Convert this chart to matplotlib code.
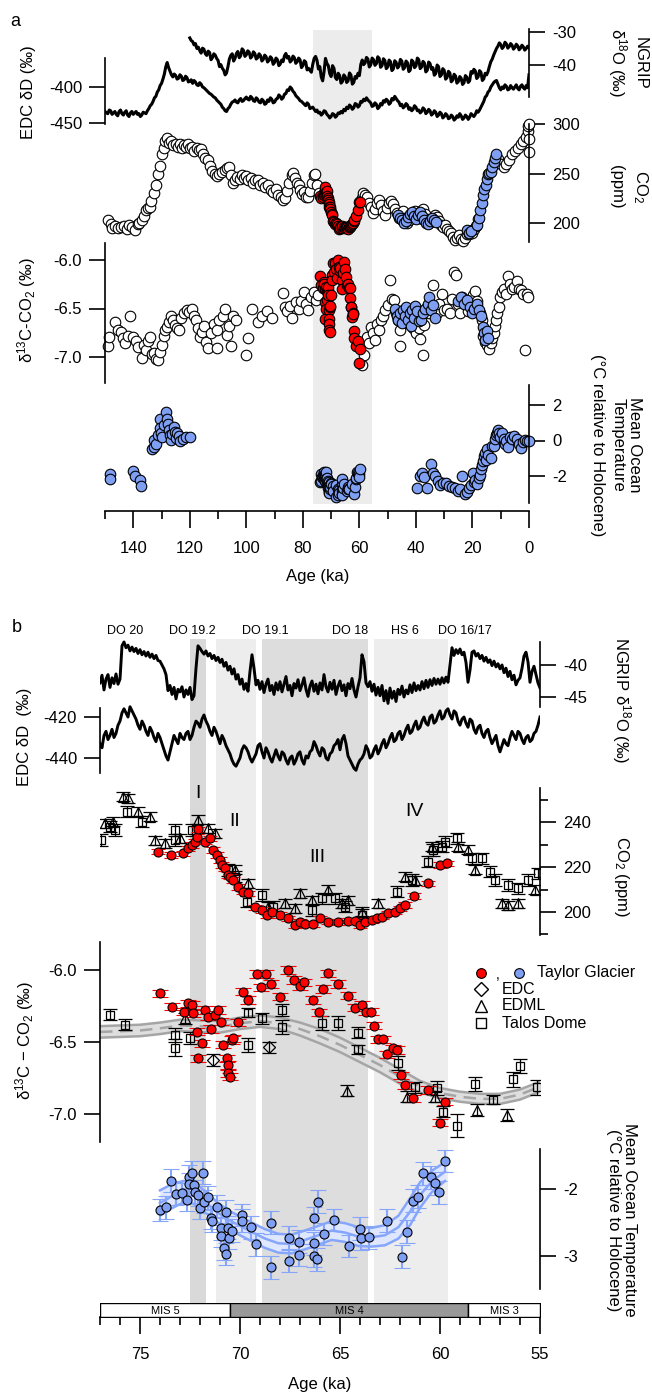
import numpy as np
import matplotlib
matplotlib.use("Agg")
import matplotlib.pyplot as plt

plt.rcParams["font.family"] = ["Liberation Sans", "DejaVu Sans"]
plt.rcParams["mathtext.fontset"] = "custom"
plt.rcParams["mathtext.rm"] = "Liberation Sans"
plt.rcParams["mathtext.it"] = "Liberation Sans:italic"
plt.rcParams["font.size"] = 12

# ------------------------------------------------------------------ data
# panel a: NGRIP d18O, 0.5 ka steps from 120 ka to 0 ka
ngrip_a = [-31.8, -32.6, -32.9, -33.9, -33.5, -35.0, -34.6, -35.6, -36.4, -34.9,
           -35.2, -36.6, -37.1, -35.8, -36.2, -38.4, -37.8, -36.6, -37.0, -38.0,
           -38.6, -40.5, -39.9, -41.0, -41.6, -43.0, -42.4, -40.5, -38.2, -37.1,
           -36.6, -38.8, -38.0, -36.5, -35.9, -37.8, -37.2, -35.1, -35.6, -37.4,
           -36.9, -35.7, -36.1, -37.9, -37.4, -36.0, -36.5, -38.2, -37.8, -36.6,
           -37.1, -38.8, -38.3, -37.0, -37.5, -39.1, -38.6, -37.5, -38.0, -39.8,
           -39.2, -37.9, -38.4, -40.2, -39.7, -38.5, -39.0, -37.2, -36.5, -37.9,
           -37.4, -39.1, -38.6, -37.3, -37.8, -39.5, -39.0, -37.9, -38.4, -40.8,
           -40.2, -38.7, -39.1, -41.5, -41.0, -41.6, -42.2, -39.8, -38.0, -37.4,
           -38.6, -41.2, -40.5, -43.6, -44.8, -42.0, -38.0, -39.5, -40.2, -42.6,
           -43.5, -40.2, -41.0, -43.8, -44.4, -42.5, -43.2, -45.5, -45.0, -43.0,
           -43.6, -45.3, -44.8, -42.4, -43.0, -45.8, -45.3, -43.5, -44.0, -42.5,
           -43.2, -39.8, -38.5, -39.9, -39.4, -37.7, -38.2, -40.6, -40.0, -37.9,
           -38.4, -40.1, -39.6, -37.5, -38.0, -40.7, -40.2, -38.1, -38.6, -41.1,
           -40.6, -38.5, -39.0, -41.7, -41.2, -38.7, -39.2, -40.9, -40.4, -38.3,
           -38.8, -41.3, -40.8, -38.8, -39.3, -42.0, -41.5, -38.5, -39.0, -40.8,
           -40.3, -37.9, -38.4, -41.1, -40.6, -38.9, -39.4, -42.1, -41.6, -39.1,
           -39.6, -41.3, -40.8, -43.1, -42.6, -40.0, -40.5, -43.5, -43.0, -41.1,
           -41.6, -44.3, -43.8, -41.9, -42.4, -45.1, -44.6, -42.8, -43.3, -45.5,
           -45.0, -43.5, -44.0, -45.9, -45.4, -43.2, -43.7, -45.3, -44.8, -42.0,
           -42.5, -41.3, -41.8, -44.1, -43.6, -41.7, -42.2, -44.7, -44.2, -42.5,
           -43.0, -42.0, -40.4, -39.0, -38.2, -37.0, -36.0, -35.0, -34.3, -33.3,
           -33.8, -35.0, -34.5, -33.1, -33.6, -34.9, -34.4, -33.5, -34.0, -35.2,
           -34.7, -33.7, -34.2, -35.4, -34.9, -34.0, -34.5, -35.5, -35.0, -34.3,
           -34.8]

# panel a: EDC dD, 0.5 ka steps from 150 ka to 0 ka
edc_a = [-434, -436, -437, -432, -433, -438, -436, -434, -438, -440,
         -434, -432, -437, -439, -435, -433, -439, -441, -436, -434,
         -438, -436, -434, -438, -437, -441, -439, -435, -436, -437,
         -433, -430, -426, -424, -420, -415, -413, -407, -404, -398,
         -395, -389, -382, -372, -366, -373, -378, -383, -386, -382,
         -384, -389, -388, -383, -385, -391, -390, -385, -387, -393,
         -392, -390, -395, -391, -393, -397, -398, -394, -396, -400,
         -401, -403, -405, -407, -409, -410, -412, -414, -415, -418,
         -420, -422, -424, -428, -430, -433, -434, -430, -428, -424,
         -421, -420, -418, -421, -422, -418, -416, -420, -419, -416,
         -414, -417, -418, -413, -415, -419, -420, -415, -417, -421,
         -422, -417, -419, -424, -423, -418, -420, -415, -417, -422,
         -421, -417, -416, -411, -413, -417, -415, -410, -409, -404,
         -405, -400, -402, -406, -408, -412, -414, -416, -419, -420,
         -422, -424, -426, -422, -424, -430, -429, -428, -431, -434,
         -432, -436, -435, -439, -437, -433, -434, -438, -440, -443,
         -441, -437, -438, -442, -440, -436, -437, -434, -436, -431,
         -433, -428, -430, -425, -427, -431, -429, -423, -424, -428,
         -426, -420, -421, -417, -419, -415, -418, -420, -422, -427,
         -426, -422, -424, -430, -428, -423, -425, -419, -421, -417,
         -419, -424, -422, -416, -418, -413, -416, -419, -421, -426,
         -424, -429, -427, -423, -425, -431, -429, -433, -431, -426,
         -428, -433, -432, -436, -434, -429, -431, -437, -435, -431,
         -433, -439, -437, -433, -435, -441, -439, -435, -437, -443,
         -441, -437, -439, -444, -443, -439, -441, -446, -444, -440,
         -442, -437, -440, -445, -443, -439, -441, -445, -442, -437,
         -439, -441, -438, -433, -435, -432, -428, -424, -420, -414,
         -412, -407, -405, -400, -397, -394, -392, -391, -396, -401,
         -404, -400, -402, -397, -399, -404, -403, -398, -401, -403,
         -400, -397, -402, -404, -399, -397, -401, -403, -398, -401,
         -383]

# panel a: ice core CO2 compilation (open circles)
co2_a_age = [149.0, 148.0, 147.4, 146.5, 145.5, 144.4, 143.3, 142.2, 141.5, 140.5,
             139.4, 138.5, 137.8, 137.0, 136.2, 135.6, 134.8, 134.1, 133.6, 132.6,
             132.0, 131.2, 130.6, 129.8, 129.2, 128.6, 128.2, 127.5, 126.7, 125.8,
             125.0, 124.2, 123.5, 122.8, 122.0, 121.2, 120.5, 119.8, 119.3, 118.5,
             117.6, 116.8, 116.0, 115.3, 114.6, 113.6, 112.8, 112.0, 111.2, 110.4,
             109.5, 108.5, 107.6, 106.8, 106.1, 105.4, 104.7, 104.0, 103.2, 102.4,
             101.6, 100.8, 100.1, 99.3, 98.5, 97.6, 96.8, 95.8, 95.0, 94.2,
             93.4, 92.5, 91.3, 90.4, 89.5, 88.7, 87.8, 87.0, 86.3, 85.6,
             84.8, 84.0, 83.4, 82.8, 82.0, 81.5, 81.0, 80.3, 79.5, 78.8,
             78.2, 77.5, 76.8, 76.2, 75.7, 75.0, 74.3,
             59.2, 58.6, 58.0, 57.3, 56.6, 55.9, 55.2, 54.5, 53.8, 53.0,
             52.3, 51.6, 50.9, 50.2, 49.5, 48.8, 48.0, 47.3, 46.6, 45.9,
             45.2, 44.5, 43.8, 43.1, 42.4, 41.7, 41.0, 40.3, 39.6, 38.9,
             38.2, 37.5, 36.8, 36.1, 35.4, 34.7, 34.0, 33.3, 32.6, 31.9,
             31.2, 30.5, 29.8, 29.1, 28.4, 27.7, 27.0, 26.3, 25.6, 24.9,
             24.2, 23.5, 22.8, 22.1, 21.4, 20.7, 20.0, 19.3, 18.6, 18.0,
             11.0, 10.0, 9.0, 8.0, 7.0, 6.0, 5.0, 4.0, 3.0, 2.0,
             1.0, 0.5, 0.2, 0.1, 0.0, 0.05]
co2_a = [203, 199, 195, 197, 195, 196, 197, 194, 198, 196,
         193, 199, 200, 203, 207, 213, 215, 216, 222, 230,
         238, 250, 258, 270, 276, 283, 286, 281, 283, 279,
         280, 277, 280, 276, 279, 277, 280, 276, 277, 273,
         276, 274, 275, 270, 266, 264, 258, 253, 249, 247,
         249, 252, 254, 256, 257, 248, 240, 243, 246, 244,
         248, 245, 247, 243, 245, 240, 243, 243, 238, 240,
         236, 238, 233, 231, 234, 228, 226, 223, 225, 232,
         240, 248, 251, 245, 240, 238, 233, 229, 231, 226,
         226, 232, 240, 248, 250, 238, 230,
         225, 230, 228, 226, 220, 216, 210, 214, 220, 223,
         218, 212, 208, 215, 220, 222, 219, 214, 210, 205,
         208, 212, 205, 200, 203, 207, 210, 212, 208, 205,
         212, 214, 209, 204, 200, 202, 205, 208, 206, 202,
         198, 196, 198, 194, 192, 190, 186, 183, 185, 188,
         184, 182, 185, 189, 189, 192, 190, 194, 197, 204,
         265, 260, 257, 260, 264, 270, 273, 276, 280, 283,
         287, 293, 298, 300, 272, 285]

# panel a: other blue CO2 records
co2_blue_age = [46.5, 45.8, 45.0, 44.3, 43.6, 42.9, 42.2, 41.5, 40.8, 40.0,
                39.2, 38.5, 37.8, 37.1, 36.4, 35.7, 35.0, 34.3, 33.6, 32.9,
                22.0, 21.3, 20.6, 18.3, 17.8, 17.3, 16.8, 16.3, 15.8, 15.3,
                14.9, 14.5, 14.0, 13.5, 13.0, 12.5, 12.0, 11.6]
co2_blue = [208, 205, 203, 200, 202, 206, 209, 211, 207, 204,
            208, 211, 207, 203, 200, 199, 202, 205, 203, 201,
            193, 190, 192, 198, 205, 213, 220, 228, 234, 238,
            244, 249, 251, 252, 257, 262, 266, 270]

# panel a: d13C-CO2 compilation (open circles)
d13c_a_age = [149.1, 148.5, 146.6, 145.5, 144.4, 143.8, 142.9, 142.0, 141.1, 140.0,
              139.2, 138.4, 137.0, 136.2, 135.5, 134.8, 134.1, 133.4, 132.6, 131.9,
              131.2, 130.5, 129.8, 129.2, 128.6, 128.2, 127.5, 126.7, 126.0, 125.2,
              124.5, 123.8, 123.0, 122.2, 121.0, 120.2, 119.3, 118.6, 117.8, 117.0,
              116.4, 115.6, 114.8, 114.2, 113.6, 112.5, 111.5, 110.4, 110.4, 109.5,
              108.4, 107.6, 106.8, 106.1, 105.4, 104.7, 103.8, 100.1, 99.4, 98.0,
              95.8, 94.5, 92.7, 91.0, 87.0, 86.2, 85.6, 84.5, 83.8, 82.4,
              81.5, 80.5, 79.6, 78.8, 78.2, 77.2, 76.2, 75.4, 74.6,
              59.0, 58.5, 57.3, 56.5, 55.9, 55.2, 54.5, 53.8, 53.0, 52.3,
              51.6, 50.8, 50.0, 49.2, 48.5, 47.8, 47.0, 46.2, 45.6, 45.6,
              44.9, 44.0, 43.0, 42.0, 41.0, 40.0, 39.0, 38.5, 37.5, 37.0,
              36.0, 35.5, 34.7, 34.0, 33.3, 32.5, 31.8, 30.8, 30.0, 29.0,
              28.0, 27.4, 26.5, 26.0, 25.1, 24.3, 23.6, 22.5, 21.5, 20.5,
              19.8, 19.1, 18.3, 17.5, 16.8, 16.2, 15.5, 14.8, 14.2, 13.6,
              13.1, 12.5, 12.0, 11.7, 11.2, 10.7, 10.3, 9.6, 8.8, 8.2,
              7.5, 6.8, 6.0, 5.2, 4.3, 3.5, 2.8, 2.1, 1.4, 0.7,
              0.3]
d13c_a = [-6.89, -6.79, -6.64, -6.72, -6.74, -6.80, -6.86, -6.78, -6.58, -6.79,
          -6.83, -6.90, -7.01, -6.88, -6.93, -6.84, -6.79, -6.97, -6.96, -7.02,
          -7.03, -6.95, -6.88, -6.78, -6.72, -6.69, -6.64, -6.58, -6.62, -6.67,
          -6.70, -6.72, -6.60, -6.55, -6.52, -6.54, -6.50, -6.58, -6.62, -6.70,
          -6.79, -6.74, -6.68, -6.85, -6.91, -6.75, -6.66, -6.91, -6.72, -6.62,
          -6.58, -6.50, -6.77, -6.68, -6.89, -6.58, -6.62, -6.98, -6.80, -6.50,
          -6.64, -6.58, -6.53, -6.60, -6.34, -6.48, -6.53, -6.47, -6.60, -6.43,
          -6.50, -6.42, -6.33, -6.45, -6.52, -6.38, -6.33, -6.41, -6.36,
          -7.08, -6.98, -6.79, -6.86, -6.69, -6.75, -6.82, -6.66, -6.72, -6.62,
          -6.58, -6.52, -6.46, -6.21, -6.40, -6.41, -6.55, -6.62, -6.89, -6.72,
          -6.60, -6.64, -6.57, -6.66, -6.70, -6.75, -6.70, -6.81, -6.98, -6.67,
          -6.48, -6.55, -6.45, -6.26, -6.50, -6.55, -6.45, -6.35, -6.52, -6.50,
          -6.55, -6.40, -6.12, -6.15, -6.45, -6.55, -6.38, -6.42, -6.53, -6.45,
          -6.36, -6.32, -6.42, -6.55, -6.62, -6.78, -6.85, -6.88, -6.92, -6.86,
          -6.80, -6.75, -6.68, -6.62, -6.55, -6.48, -6.38, -6.33, -6.30, -6.35,
          -6.17, -6.25, -6.30, -6.28, -6.22, -6.30, -6.31, -6.35, -6.93, -6.35,
          -6.38]

d13c_blue_age = [47.5, 46.8, 46.2, 45.6, 45.0, 44.5, 43.9, 43.5, 42.8, 42.2,
                 41.7, 41.4, 40.8, 40.2, 39.6, 39.0, 38.2, 37.5, 36.8, 35.9,
                 35.3, 34.6, 34.0, 33.4, 25.0, 24.0, 23.0, 21.9, 21.0, 20.3,
                 19.5, 18.5, 17.7, 17.0, 16.3, 15.8, 15.6, 15.0, 14.5]
d13c_blue = [-6.50, -6.58, -6.62, -6.55, -6.65, -6.52, -6.58, -6.48, -6.62, -6.55,
             -6.68, -6.52, -6.60, -6.47, -6.53, -6.63, -6.62, -6.55, -6.50, -6.45,
             -6.38, -6.52, -6.46, -6.60, -6.42, -6.38, -6.45, -6.41, -6.48, -6.55,
             -6.50, -6.45, -6.52, -6.58, -6.69, -6.75, -6.82, -6.73, -6.80]

# panel a: other mean ocean temperature records
mot_a_age = [148.2, 148.2, 140.0, 139.3, 137.6, 137.3, 133.4, 132.8, 132.6, 132.0,
             131.4, 130.6, 130.5, 130.1, 129.8, 129.2, 128.4, 128.2, 127.8, 127.5,
             127.0, 126.7, 126.2, 125.6, 125.2, 124.9, 124.5, 123.9, 123.5, 122.4,
             121.2, 120.0, 39.6, 38.5, 37.7, 37.1, 36.1, 34.7, 34.0, 33.2,
             32.2, 31.5, 30.5, 29.4, 28.4, 27.3, 26.3, 25.1, 24.4, 23.6,
             22.7, 22.0, 21.3, 20.6, 19.9, 19.4, 19.0, 18.4, 17.7, 17.3,
             17.0, 16.6, 16.3, 15.9, 15.6, 15.2, 14.8, 14.4, 13.6, 13.1,
             12.5, 12.0, 11.7, 11.3, 11.1, 10.6, 10.1, 9.6, 9.0, 8.5,
             8.1, 7.5, 6.7, 6.0, 5.2, 4.3, 3.5, 2.8, 2.1, 1.4,
             0.6, 0.1]
mot_a = [-1.90, -2.15, -1.70, -2.00, -2.20, -2.57, -0.50, -0.35, 0.05, -0.22,
         0.30, 1.20, 0.70, 0.45, 0.20, 0.90, 1.60, 1.20, 0.95, 0.60,
         0.30, 0.05, 0.35, 0.75, 0.50, 0.15, 0.44, 0.25, -0.04, 0.10,
         0.22, 0.17, -2.70, -2.00, -1.85, -2.05, -2.65, -1.35, -1.85, -2.00,
         -2.30, -2.50, -2.40, -2.40, -2.55, -2.62, -2.70, -2.86, -2.75, -2.00,
         -3.04, -2.90, -2.65, -2.50, -1.85, -2.35, -2.20, -2.45, -2.10, -1.95,
         -1.63, -1.40, -1.17, -0.90, -0.68, -1.10, -0.50, -0.80, -1.00, -0.30,
         -0.32, 0.10, 0.33, 0.45, 0.60, 0.40, 0.20, 0.40, 0.10, -0.20,
         -0.04, -0.35, 0.20, 0.10, 0.25, 0.10, -0.20, -0.45, -0.10, 0.05,
         0.00, -0.05]

# panel b: NGRIP d18O, 0.1 ka steps from 77 ka to 55 ka
ngrip_b = [-42.8, -41.6, -43.9, -42.2, -41.5, -43.5, -42.0, -42.9, -41.4, -43.0,
           -42.2, -37.0, -36.4, -37.3, -36.9, -37.8, -37.2, -37.9, -37.4, -38.2,
           -37.6, -38.4, -37.9, -38.6, -38.0, -38.8, -38.3, -39.0, -38.5, -39.3,
           -39.4, -40.0, -40.6, -41.5, -44.0, -43.2, -44.6, -43.5, -45.3, -43.8,
           -44.2, -43.4, -45.0, -43.9, -44.6, -43.5, -45.4, -44.8, -40.5, -37.0,
           -37.4, -37.9, -38.3, -37.8, -38.6, -38.2, -39.0, -38.5, -39.3, -38.8,
           -39.6, -39.1, -40.2, -39.6, -40.8, -40.2, -41.4, -40.6, -42.2, -41.5,
           -43.0, -42.2, -43.8, -42.9, -44.1, -41.0, -38.4, -40.5, -43.1, -42.4,
           -43.8, -42.6, -44.3, -43.0, -42.2, -44.0, -43.2, -44.6, -42.8, -43.9,
           -42.6, -44.2, -43.0, -41.8, -43.9, -43.2, -44.8, -42.9, -43.6, -42.3,
           -44.0, -43.1, -42.0, -43.8, -44.9, -43.3, -42.5, -44.1, -43.0, -44.5,
           -42.8, -43.9, -41.5, -43.4, -44.2, -42.7, -43.8, -42.4, -44.6, -43.3,
           -42.5, -44.0, -43.1, -44.8, -42.9, -43.7, -42.1, -43.9, -45.0, -43.4,
           -42.0, -38.4, -39.5, -42.8, -43.4, -42.6, -44.1, -43.0, -44.7, -43.5,
           -44.8, -43.2, -45.6, -44.0, -46.0, -43.6, -45.2, -44.1, -45.7, -43.8,
           -44.6, -43.3, -45.0, -43.9, -44.5, -43.1, -44.3, -42.8, -44.0, -43.2,
           -43.9, -42.6, -43.7, -42.4, -43.5, -42.3, -43.2, -42.1, -43.0, -42.2,
           -43.0, -42.0, -42.8, -41.9, -42.7, -40.0, -37.3, -38.5, -37.6, -38.2,
           -37.5, -38.4, -38.0, -39.6, -42.7, -40.8, -38.0, -37.8, -38.6, -38.2,
           -39.0, -38.5, -39.4, -38.8, -39.6, -39.2, -40.1, -39.4, -40.3, -39.8,
           -40.6, -40.0, -41.2, -40.5, -41.8, -41.0, -42.3, -41.6, -43.1, -42.4,
           -42.0, -40.5, -38.6, -38.0, -39.5, -42.7, -41.0, -40.2, -41.5, -42.8,
           -43.6]

# panel b: EDC dD, 0.1 ka steps from 77 ka to 55 ka
edc_b = [-433, -435, -429, -427, -431, -429, -426, -430, -428, -424,
         -422, -418, -416, -418, -420, -415, -417, -419, -421, -424,
         -426, -422, -424, -427, -429, -425, -427, -430, -432, -428,
         -430, -433, -436, -439, -441, -437, -433, -429, -431, -433,
         -428, -430, -431, -428, -427, -431, -429, -425, -422, -423,
         -425, -421, -419, -422, -424, -427, -429, -425, -427, -430,
         -433, -429, -431, -434, -436, -438, -441, -443, -444, -442,
         -440, -436, -434, -435, -437, -440, -442, -440, -438, -434,
         -433, -437, -440, -435, -437, -440, -442, -439, -436, -439,
         -441, -437, -438, -441, -443, -440, -439, -443, -441, -438,
         -437, -441, -443, -439, -440, -437, -436, -432, -434, -437,
         -439, -435, -436, -440, -441, -438, -437, -434, -433, -431,
         -436, -431, -429, -433, -439, -441, -443, -445, -446, -443,
         -441, -440, -438, -434, -436, -440, -439, -436, -434, -438,
         -436, -433, -431, -435, -433, -430, -428, -432, -431, -428,
         -427, -431, -429, -426, -424, -428, -427, -424, -422, -426,
         -425, -422, -420, -423, -424, -420, -419, -423, -422, -419,
         -417, -421, -420, -417, -416, -419, -421, -417, -418, -422,
         -424, -421, -420, -423, -425, -421, -422, -426, -428, -425,
         -424, -428, -430, -427, -426, -430, -433, -431, -429, -434,
         -437, -434, -431, -433, -434, -430, -427, -429, -431, -427,
         -428, -431, -433, -430, -429, -432, -431, -428, -427, -424,
         -420]

# panel b: Taylor Glacier CO2 (red)
tg_co2_age = [74.08, 73.45, 72.83, 72.58, 72.42, 72.25, 72.17, 72.12, 71.75, 71.5,
              71.33, 71.17, 71.0, 70.92, 70.75, 70.62, 70.5, 70.33, 70.08, 69.83,
              69.58, 69.25, 68.92, 68.67, 68.42, 68.0, 67.58, 67.25, 67.0, 66.75,
              66.33, 66.0, 65.58, 65.08, 64.58, 64.25, 64.0, 63.75, 63.42, 63.17,
              62.92, 62.58, 62.25, 62.0, 61.75, 61.28, 60.58, 60.0, 59.67]
tg_co2 = [226.8, 225.3, 226.1, 228.3, 229.8, 231.3, 233.5, 236.7, 231.3, 232.7,
          227.6, 225.3, 223.1, 220.9, 219.4, 216.4, 215.7, 214.2, 211.2, 209.0,
          208.3, 202.1, 200.9, 198.7, 200.1, 198.7, 197.2, 194.2, 195.7, 194.7,
          194.7, 197.2, 195.7, 195.4, 196.1, 196.1, 194.2, 195.7, 196.4, 197.2,
          197.9, 199.4, 200.1, 201.6, 203.1, 207.1, 212.8, 220.9, 221.6]

# panel b: Talos Dome CO2 (squares) and EDML CO2 (triangles)
td_co2_age = [76.95, 76.5, 76.25, 75.67, 74.92, 73.25, 73.25, 72.42, 70.58, 70.25,
              69.67, 68.92, 68.33, 66.42, 65.92, 65.25, 64.75, 63.92, 62.17, 61.42,
              60.58, 60.33, 59.92, 59.75, 59.17, 58.42, 57.92, 57.5, 57.25, 56.58,
              56.08, 55.58, 55.08]
td_co2 = [232.0, 237.9, 236.4, 244.6, 240.1, 236.4, 232.0, 236.4, 218.7, 215.7,
          204.6, 207.6, 202.4, 200.9, 206.0, 206.0, 202.4, 198.7, 209.0, 214.2,
          222.3, 227.6, 229.0, 231.3, 232.7, 223.9, 223.9, 217.9, 214.2, 212.0,
          210.5, 214.2, 217.2]
edml_co2_age = [76.75, 76.33, 75.83, 75.58, 75.08, 74.5, 74.25, 73.75, 73.0, 72.08,
                71.58, 71.25, 70.25, 69.58, 68.58, 67.75, 67.25, 67.0, 66.42, 65.58,
                64.92, 64.58, 63.92, 63.08, 61.75, 61.25, 60.42, 59.08, 58.58, 58.25,
                56.92, 56.58, 56.08, 55.25]
edml_co2 = [239.4, 240.1, 251.2, 250.5, 244.6, 242.4, 232.0, 230.5, 232.7, 240.9,
            237.2, 235.0, 218.7, 212.8, 202.4, 203.9, 201.6, 208.3, 205.3, 209.8,
            203.9, 205.3, 200.1, 203.9, 215.7, 214.2, 229.0, 229.0, 227.6, 218.7,
            203.9, 203.1, 203.9, 209.8]

# panel b: Taylor Glacier d13C-CO2 (red)
tg_d13c_age = [74.0, 73.42, 72.78, 72.58, 72.42, 72.33, 72.17, 72.08, 71.92, 71.75,
               71.58, 71.45, 71.25, 71.08, 70.95, 70.83, 70.67, 70.58, 70.58, 70.5,
               70.42, 70.33, 70.08, 69.83, 69.58, 69.17, 68.95, 68.72, 68.45, 68.0,
               67.58, 67.28, 67.0, 66.78, 66.33, 66.05, 65.83, 65.58, 65.08, 64.58,
               64.25, 63.92, 63.72, 63.45, 63.32, 63.08, 62.83, 62.63, 62.37, 62.17,
               61.95, 61.75, 61.33, 60.58, 60.0, 59.75]
tg_d13c = [-6.162, -6.255, -6.29, -6.23, -6.243, -6.30, -6.428, -6.613, -6.51, -6.278,
           -6.324, -6.41, -6.31, -6.278, -6.36, -6.52, -6.613, -6.66, -6.717, -6.74,
           -6.486, -6.474, -6.363, -6.15, -6.208, -6.028, -6.12, -6.028, -6.097, -6.185,
           -6.0, -6.07, -6.111, -6.086, -6.208, -6.294, -6.132, -6.023, -6.097, -6.178,
           -6.262, -6.243, -6.29, -6.29, -6.387, -6.482, -6.482, -6.586, -6.544, -6.556,
           -6.73, -6.8, -6.89, -6.833, -7.06, -6.915]

td_d13c_age = [76.5, 75.75, 73.25, 73.25, 72.5, 69.58, 69.58, 68.92, 67.92, 67.92,
               65.92, 65.08, 64.08, 64.08, 62.08, 61.25, 60.17, 59.83, 59.17, 58.25,
               57.33, 56.33, 56.0, 55.17]
td_d13c = [-6.31, -6.38, -6.45, -6.54, -6.474, -6.296, -6.52, -6.336, -6.278, -6.394,
           -6.37, -6.37, -6.435, -6.55, -6.644, -6.815, -6.82, -6.984, -7.08, -6.79,
           -6.9, -6.76, -6.665, -6.815]
td_d13c_err = [0.04, 0.04, 0.05, 0.06, 0.04, 0.03, 0.05, 0.04, 0.04, 0.05,
               0.05, 0.05, 0.04, 0.03, 0.05, 0.04, 0.05, 0.04, 0.08, 0.05,
               0.03, 0.05, 0.05, 0.05]
edml_d13c_age = [72.75, 64.67, 61.67, 60.25, 58.17, 56.63]
edml_d13c = [-6.336, -6.838, -6.88, -6.88, -6.972, -7.007]
edc_d13c_age = [71.33, 68.55]
edc_d13c = [-6.625, -6.537]

# Talos Dome spline with envelope
spl_age = [77.0, 76.0, 75.0, 74.0, 73.0, 72.0, 71.0, 70.0, 69.0, 68.0, 67.0, 66.0,
           65.0, 64.0, 63.0, 62.0, 61.0, 60.0, 59.0, 58.0, 57.0, 56.0, 55.0]
spl_mid = [-6.43, -6.425, -6.42, -6.405, -6.385, -6.39, -6.395, -6.37, -6.355, -6.37,
           -6.41, -6.46, -6.52, -6.59, -6.66, -6.74, -6.81, -6.855, -6.88, -6.895,
           -6.895, -6.865, -6.81]
spl_hi = [-6.39, -6.385, -6.38, -6.365, -6.345, -6.35, -6.355, -6.33, -6.315, -6.33,
          -6.365, -6.41, -6.47, -6.54, -6.61, -6.69, -6.77, -6.82, -6.845, -6.86,
          -6.86, -6.83, -6.775]
spl_lo = [-6.47, -6.465, -6.46, -6.445, -6.425, -6.43, -6.435, -6.41, -6.395, -6.41,
          -6.455, -6.51, -6.57, -6.64, -6.71, -6.79, -6.85, -6.89, -6.915, -6.93,
          -6.93, -6.9, -6.845]

# panel b: Taylor Glacier mean ocean temperature (blue)
tg_mot_age = [74.0, 73.72, 73.45, 73.22, 72.88, 72.67, 72.53, 72.42, 72.53, 72.3,
              72.25, 72.12, 72.02, 71.83, 71.78, 71.62, 71.45, 71.42, 71.17, 70.95,
              70.95, 70.82, 70.7, 70.68, 70.58, 70.55, 70.42, 69.92, 69.92, 69.45,
              69.2, 68.45, 68.45, 67.55, 67.55, 67.05, 67.05, 66.3, 66.3, 66.3,
              66.17, 66.08, 65.78, 65.32, 64.55, 64.0, 63.95, 63.55, 62.63, 61.92,
              61.63, 61.33, 61.12, 60.83, 60.45, 60.25, 60.05, 59.75]
tg_mot = [-2.313, -2.273, -1.876, -2.075, -2.055, -2.164, -1.816, -1.757, -1.925, -1.94,
          -2.04, -2.09, -2.28, -1.757, -2.19, -2.124, -2.428, -2.478, -2.264, -2.587,
          -2.7, -2.886, -2.97, -2.34, -2.578, -2.727, -2.622, -2.388, -2.473, -2.572,
          -2.826, -2.503, -3.169, -2.727, -3.075, -2.786, -2.985, -2.437, -2.811, -2.995,
          -3.05, -2.19, -2.672, -2.463, -2.851, -2.592, -2.736, -2.721, -2.473, -3.01,
          -2.637, -2.174, -2.114, -1.765, -1.825, -1.915, -2.05, -1.582]
mot_spl_age = [74.0, 73.42, 72.83, 72.33, 71.75, 71.17, 70.58, 70.0, 69.42, 68.75,
               68.08, 67.42, 66.75, 66.08, 65.42, 64.75, 64.08, 63.42, 62.75, 62.08,
               61.5, 61.0, 60.42, 59.75]
mot_spl_mid = [-2.21, -2.11, -2.04, -2.06, -2.19, -2.34, -2.46, -2.55, -2.64, -2.74,
               -2.81, -2.82, -2.76, -2.69, -2.62, -2.65, -2.71, -2.72, -2.69, -2.57,
               -2.34, -2.09, -1.89, -1.74]
mot_spl_hi = [-2.02, -1.93, -1.88, -1.90, -2.03, -2.19, -2.32, -2.41, -2.50, -2.60,
              -2.67, -2.68, -2.62, -2.55, -2.48, -2.51, -2.57, -2.58, -2.54, -2.40,
              -2.14, -1.90, -1.73, -1.60]
mot_spl_lo = [-2.40, -2.29, -2.20, -2.22, -2.35, -2.49, -2.60, -2.69, -2.78, -2.88,
              -2.95, -2.96, -2.90, -2.83, -2.76, -2.79, -2.85, -2.86, -2.84, -2.74,
              -2.54, -2.28, -2.05, -1.88]

# shaded intervals (ka) and labels
band_a = (76.5, 55.5)
bands_b = [(72.5, 71.7, "#d9d9d9"), (71.2, 69.2, "#ededed"),
           (68.9, 63.6, "#dddddd"), (63.3, 59.6, "#ededed")]
do_labels = ["DO 20", "DO 19.2", "DO 19.1", "DO 18", "HS 6", "DO 16/17"]
do_ages = [75.75, 72.4, 68.75, 64.5, 61.75, 58.75]
phase_labels = ["I", "II", "III", "IV"]
phase_ages = [72.1, 70.25, 66.15, 61.3]
mis_edges = [77.0, 70.5, 58.6, 55.0]
mis_labels = ["MIS 5", "MIS 4", "MIS 3"]

# ------------------------------------------------------------------ layout helpers
W, H = 652, 1395
fig = plt.figure(figsize=(W / 100, H / 100), dpi=100)

BLUE = "#7f9ff3"
BLUE_ERR = "#86a6fb"
RED = "#ff0000"


def add_ax(x0, x1, top, bot, xlim, ref1, ref2):
    # ref = (pixel row, value): two of them fix the y scale
    ax = fig.add_axes([x0 / W, 1 - bot / H, (x1 - x0) / W, (bot - top) / H])
    (p1, v1), (p2, v2) = ref1, ref2
    k = (v2 - v1) / (p2 - p1)

    def px2val(p):
        return v1 + (p - p1) * k

    ax.set_xlim(*xlim)
    ax.set_ylim(px2val(bot), px2val(top))
    ax.patch.set_alpha(0)
    for s in ax.spines.values():
        s.set_visible(False)
    ax.set_xticks([])
    ax.set_yticks([])
    return ax, px2val


def y_axis(ax, px2val, side, top, bot, ticks, labels, minor=None):
    sp = ax.spines[side]
    sp.set_visible(True)
    sp.set_linewidth(1.2)
    sp.set_bounds(px2val(bot), px2val(top))
    ax.set_yticks(ticks)
    ax.set_yticklabels(labels)
    if minor is not None:
        ax.set_yticks(minor, minor=True)
    right = side == "right"
    ax.tick_params(axis="y", which="both", left=not right, right=right,
                   labelleft=not right, labelright=right, direction="out", width=1.2)
    ax.tick_params(axis="y", which="major", length=11.5, pad=5, labelsize=12)
    ax.tick_params(axis="y", which="minor", length=6)


def x_axis(x0, x1, y, xlim, major, minor):
    ax = fig.add_axes([x0 / W, 1 - y / H, (x1 - x0) / W, 2 / H])
    ax.set_xlim(*xlim)
    ax.patch.set_alpha(0)
    for s in ["top", "left", "right"]:
        ax.spines[s].set_visible(False)
    ax.spines["bottom"].set_linewidth(1.2)
    ax.set_yticks([])
    ax.set_xticks(major)
    ax.set_xticklabels([str(m) for m in major])
    ax.set_xticks(minor, minor=True)
    ax.tick_params(axis="x", which="major", length=12.5, width=1.2, pad=9, labelsize=12)
    ax.tick_params(axis="x", which="minor", length=6, width=1.2)
    return ax


def circles(ax, x, y, face, ms):
    ax.plot(x, y, "o", ls="none", ms=ms, mfc=face, mec="k", mew=0.8, clip_on=False)


# ------------------------------------------------------------------ panel a
XA = (150, 0)
bga = fig.add_axes([105 / W, 0, (529 - 105) / W, 1])
bga.set_xlim(*XA)
bga.set_ylim(H, 0)
bga.axis("off")
bga.fill_between(list(band_a), 30, 504, color="#ececec", lw=0)

ax, f = add_ax(105, 529, 15, 110, XA, (32, -30), (65, -40))
ax.plot(np.linspace(120, 0, len(ngrip_a)), ngrip_a, color="k", lw=2.2)
y_axis(ax, f, "right", 29, 97, [-30, -40], ["-30", "-40"])

ax, f = add_ax(105, 529, 50, 130, XA, (87, -400), (123, -450))
ax.plot(np.linspace(150, 0, len(edc_a)), edc_a, color="k", lw=2.2)
y_axis(ax, f, "left", 58, 124, [-400, -450], ["-400", "-450"])

ax, f = add_ax(105, 529, 118, 250, XA, (124, 300), (223, 200))
circles(ax, co2_a_age, co2_a, "white", 7.6)
circles(ax, co2_blue_age, co2_blue, BLUE, 7.6)
circles(ax, tg_co2_age, tg_co2, RED, 7.6)
y_axis(ax, f, "right", 124, 242, [300, 250, 200], ["300", "250", "200"])

ax, f = add_ax(105, 529, 240, 390, XA, (260, -6.0), (357, -7.0))
circles(ax, d13c_a_age, d13c_a, "white", 7.6)
circles(ax, d13c_blue_age, d13c_blue, BLUE, 7.6)
circles(ax, tg_d13c_age, tg_d13c, RED, 7.6)
y_axis(ax, f, "left", 243, 383, [-6.0, -6.5, -7.0], ["-6.0", "-6.5", "-7.0"])

ax, f = add_ax(105, 529, 380, 505, XA, (405, 2), (476, -2))
circles(ax, mot_a_age, mot_a, BLUE, 7.6)
circles(ax, tg_mot_age, tg_mot, BLUE, 7.6)
y_axis(ax, f, "right", 385, 503, [2, 0, -2], ["2", "0", "-2"])

x_axis(105, 529, 511, XA, [140, 120, 100, 80, 60, 40, 20, 0],
       [150, 130, 110, 90, 70, 50, 30, 10])

# ------------------------------------------------------------------ panel b
XB = (77, 55)
bgb = fig.add_axes([100 / W, 0, (540 - 100) / W, 1])
bgb.set_xlim(*XB)
bgb.set_ylim(H, 0)
bgb.axis("off")
for a0, a1, c in bands_b:
    bgb.fill_between([a0, a1], 639, 1303, color=c, lw=0)
for lab, age in zip(do_labels, do_ages):
    bgb.text(age, 631, lab, ha="center", va="center", fontsize=9)
for lab, age, yy in zip(phase_labels, phase_ages, [793, 822, 858, 812]):
    bgb.text(age, yy, lab, ha="center", va="center", fontsize=14)

ax, f = add_ax(100, 540, 636, 712, XB, (665, -40), (697, -45))
ax.plot(np.linspace(77, 55, len(ngrip_b)), ngrip_b, color="k", lw=2.1)
y_axis(ax, f, "right", 642, 707, [-40, -45], ["-40", "-45"])

ax, f = add_ax(100, 540, 700, 780, XB, (717, -420), (758, -440))
ax.plot(np.linspace(77, 55, len(edc_b)), edc_b, color="k", lw=2.1)
y_axis(ax, f, "left", 708, 773, [-420, -440], ["-420", "-440"])

ax, f = add_ax(100, 540, 780, 940, XB, (822, 240), (912, 200))
ebk = dict(ls="none", mfc="none", mec="k", mew=0.9, ecolor="k", elinewidth=0.9,
           capsize=5, capthick=0.9)
ax.errorbar(td_co2_age, td_co2, yerr=2.5, fmt="s", ms=6, **ebk)
ax.errorbar(edml_co2_age, edml_co2, yerr=2.0, fmt="^", ms=7, **ebk)
ax.errorbar(tg_co2_age, tg_co2, yerr=1.2, fmt="o", ms=6.5, mfc=RED, mec="k",
            mew=0.8, ecolor=RED, elinewidth=1.2, capsize=5, capthick=1.5)
y_axis(ax, f, "right", 788, 935, [240, 220, 200], ["240", "220", "200"],
       minor=[250, 230, 210, 190])

ax, f = add_ax(100, 540, 940, 1145, XB, (970, -6.0), (1114, -7.0))
ax.fill_between(spl_age, spl_lo, spl_hi, color="#dedede", lw=0)
ax.plot(spl_age, spl_hi, color="#a5a5a5", lw=1.8)
ax.plot(spl_age, spl_lo, color="#a5a5a5", lw=1.8)
ax.plot(spl_age, spl_mid, color="#a5a5a5", lw=1.8, ls=(0, (5, 3)))
ax.errorbar(td_d13c_age, td_d13c, yerr=td_d13c_err, fmt="s", ms=6, **ebk)
ax.errorbar(edml_d13c_age, edml_d13c, yerr=0.04, fmt="^", ms=7, **ebk)
ax.errorbar(edc_d13c_age, edc_d13c, yerr=0.04, fmt="D", ms=6.5, **ebk)
ax.errorbar(tg_d13c_age, tg_d13c, yerr=0.025, fmt="o", ms=6.5, mfc=RED, mec="k",
            mew=0.8, ecolor=RED, elinewidth=1.2, capsize=5.5, capthick=1.5)
y_axis(ax, f, "left", 942, 1142, [-6.0, -6.5, -7.0], ["-6.0", "-6.5", "-7.0"])

ax, f = add_ax(100, 540, 1145, 1300, XB, (1189, -2), (1256, -3))
ax.fill_between(mot_spl_age, mot_spl_lo, mot_spl_hi, color="#dfe7ff", lw=0)
for s in (mot_spl_hi, mot_spl_mid, mot_spl_lo):
    ax.plot(mot_spl_age, s, color=BLUE_ERR, lw=1.8)
ax.errorbar(tg_mot_age, tg_mot, yerr=0.17, fmt="o", ms=6.5, mfc=BLUE, mec="k",
            mew=0.8, ecolor=BLUE_ERR, elinewidth=1.5, capsize=6, capthick=1.5)
y_axis(ax, f, "right", 1149, 1289, [-2, -3], ["-2", "-3"])

x_axis(100, 540, 1317, XB, [75, 70, 65, 60, 55], list(range(77, 54, -1)))
mis = fig.add_axes([100 / W, 1 - 1317 / H, 440 / W, 14 / H])
mis.set_xlim(*XB)
mis.set_ylim(0, 1)
mis.axis("off")
for i, lab in enumerate(mis_labels):
    a0, a1 = mis_edges[i], mis_edges[i + 1]
    mis.fill_between([a0, a1], 0, 1, color="#999999" if lab == "MIS 4" else "white",
                     edgecolor="k", lw=1.0)
    mis.text((a0 + a1) / 2, 0.42, lab, ha="center", va="center", fontsize=8)

# ------------------------------------------------------------------ text overlay
ov = fig.add_axes([0, 0, 1, 1])
ov.set_xlim(0, W)
ov.set_ylim(H, 0)
ov.axis("off")

ov.text(15, 22, "a", fontsize=13, ha="center", va="center")
ov.text(29, 92, "EDC δD (‰)", rotation=90, ha="center", va="center")
ov.text(640, 63, "NGRIP", rotation=270, ha="center", va="center")
ov.text(617, 63, "δ$^{18}$O (‰)", rotation=270, ha="center", va="center")
ov.text(640, 187, "CO$_2$", rotation=270, ha="center", va="center")
ov.text(617, 187, "(ppm)", rotation=270, ha="center", va="center")
ov.text(27, 310, "δ$^{13}$C-CO$_2$ (‰)", rotation=90, ha="center", va="center")
ov.text(634, 445, "Mean Ocean", rotation=270, ha="center", va="center")
ov.text(618, 445, "Temperature", rotation=270, ha="center", va="center")
ov.text(597, 445, "(°C relative to Holocene)", rotation=270, ha="center", va="center")
ov.text(318, 577, "Age (ka)", ha="center", va="center")

ov.text(17, 628, "b", fontsize=13, ha="center", va="center")
ov.text(621, 700, "NGRIP δ$^{18}$O (‰)", rotation=270, ha="center", va="center")
ov.text(25, 737, "EDC δD  (‰)", rotation=90, ha="center", va="center")
ov.text(621, 877, "CO$_2$ (ppm)", rotation=270, ha="center", va="center")
ov.text(25, 1040, "δ$^{13}$C − CO$_2$ (‰)", rotation=90, ha="center", va="center")
ov.text(630, 1220, "Mean Ocean Temperature", rotation=270, ha="center", va="center")
ov.text(613, 1220, "(°C relative to Holocene)", rotation=270, ha="center", va="center")
ov.text(320, 1385, "Age (ka)", ha="center", va="center")

# legend
ov.plot(481, 973, "o", ms=7, mfc=RED, mec="k", mew=0.8)
ov.text(498, 975, ",", ha="center", va="center", fontsize=10)
ov.plot(519, 973, "o", ms=7, mfc=BLUE, mec="k", mew=0.8)
ov.text(537, 973, "Taylor Glacier", ha="left", va="center", fontsize=11.5)
ov.plot(481, 989, "D", ms=7, mfc="none", mec="k", mew=1.0)
ov.text(502, 989, "EDC", ha="left", va="center", fontsize=11.5)
ov.plot(481, 1006, "^", ms=8, mfc="none", mec="k", mew=1.0)
ov.text(502, 1006, "EDML", ha="left", va="center", fontsize=11.5)
ov.plot(481, 1023, "s", ms=6.5, mfc="none", mec="k", mew=1.0)
ov.text(502, 1023, "Talos Dome", ha="left", va="center", fontsize=11.5)

fig.savefig("out.png", dpi=100)
